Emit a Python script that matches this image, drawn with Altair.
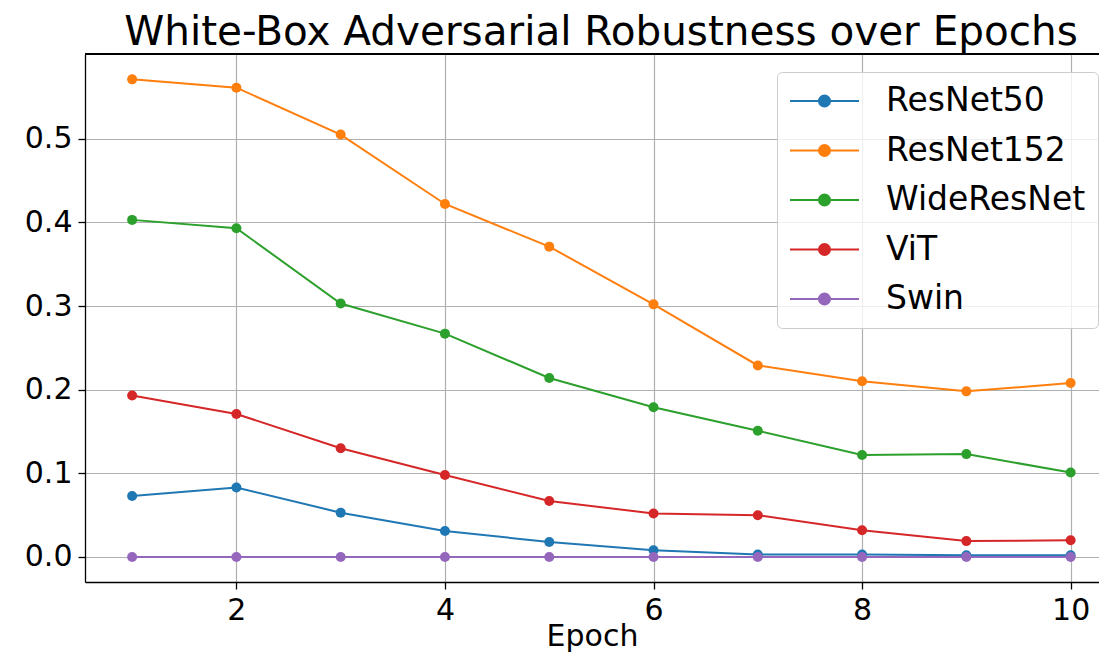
import altair as alt
import pandas as pd

epochs = [1, 2, 3, 4, 5, 6, 7, 8, 9, 10]
models = ["ResNet50", "ResNet152", "WideResNet", "ViT", "Swin"]
resnet50 = [0.073, 0.083, 0.053, 0.031, 0.018, 0.008, 0.003, 0.003, 0.002, 0.002]
resnet152 = [0.571, 0.561, 0.505, 0.422, 0.371, 0.302, 0.229, 0.210, 0.198, 0.208]
wideresnet = [0.403, 0.393, 0.303, 0.267, 0.214, 0.179, 0.151, 0.122, 0.123, 0.101]
vit = [0.193, 0.171, 0.130, 0.098, 0.067, 0.052, 0.050, 0.032, 0.019, 0.020]
swin = [0.0, 0.0, 0.0, 0.0, 0.0, 0.0, 0.0, 0.0, 0.0, 0.0]
colors = ["#1f77b4", "#ff7f0e", "#2ca02c", "#d62728", "#9467bd"]
x_ticks = [2, 4, 6, 8, 10]
y_ticks = [0.0, 0.1, 0.2, 0.3, 0.4, 0.5]

series = [resnet50, resnet152, wideresnet, vit, swin]
rows = []
for i, (m, vals) in enumerate(zip(models, series)):
    for e, v in zip(epochs, vals):
        rows.append({"Epoch": e, "value": v, "Model": m, "order": i})
df = pd.DataFrame(rows)

FONT = "DejaVu Sans"
W, H = 1014, 528

legend_symbol = "M-1,0H1M0.16,0A0.16,0.16,0,1,1,-0.16,0A0.16,0.16,0,1,1,0.16,0Z"

color = alt.Color(
    "Model:N",
    scale=alt.Scale(domain=models, range=colors),
    sort=models,
    legend=alt.Legend(
        orient="none", legendX=692, legendY=18, title=None,
        symbolType=legend_symbol, symbolSize=4761, symbolStrokeWidth=2,
        labelFontSize=33, labelFont=FONT, labelColor="black", labelLimit=0,
        fillColor="rgba(255,255,255,0.8)", strokeColor="#cccccc",
        cornerRadius=5, padding=12, rowPadding=15.5, labelOffset=26,
        clipHeight=34,
    ),
)

x = alt.X("Epoch:Q", scale=alt.Scale(domain=[0.548, 10.272], nice=False, zero=False),
          axis=alt.Axis(values=x_ticks, title="Epoch", format="d"))
y = alt.Y("value:Q", scale=alt.Scale(domain=[-0.0299, 0.6013], nice=False, zero=False),
          axis=alt.Axis(values=y_ticks, title=None, format=".1f"))

lines = alt.Chart(df).mark_line(strokeWidth=2, clip=True).encode(
    x=x, y=y, color=color, detail="Model:N", order="order:Q"
)
points = alt.Chart(df).mark_point(filled=True, size=100, opacity=1, clip=True).encode(
    x=x, y=y, color=color
)
top = alt.Chart(df).mark_rule(color="black", strokeWidth=1.3).encode(
    x=alt.value(0), x2=alt.value(W), y=alt.value(0)
)

chart = alt.layer(lines, points, top).properties(
    width=W, height=H,
    title=alt.Title("White-Box Adversarial Robustness over Epochs", fontSize=40.5,
                    font=FONT, fontWeight="normal", color="black", dx=9, offset=0),
    autosize=alt.AutoSizeParams(type="none"),
    padding={"left": 77, "top": 46, "right": 0, "bottom": 73},
).configure_view(strokeWidth=0).configure_axis(
    labelFont=FONT, labelFontSize=30, labelColor="black",
    titleFont=FONT, titleFontSize=30, titleColor="black", titleFontWeight="normal",
    grid=True, gridColor="#b0b0b0", gridWidth=1.2,
    domainColor="black", domainWidth=1.3, tickColor="black", tickWidth=1.3,
    tickSize=7, labelPadding=6, titlePadding=-4,
)

chart.save("out.html", embed_options={"renderer": "svg", "actions": False})
